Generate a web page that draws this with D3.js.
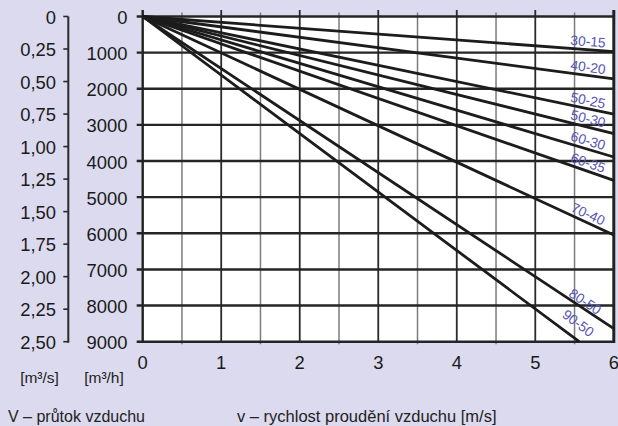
<!DOCTYPE html>
<html>
<head>
<meta charset="utf-8">
<script src="https://cdn.jsdelivr.net/npm/d3@7"></script>
<style>
  html, body { margin: 0; padding: 0; background: #dcdaee; }
  svg { display: block; }
  text { font-family: "Liberation Sans", Arial, sans-serif; }
</style>
</head>
<body>
<svg id="chart" width="618" height="426"></svg>
<script>
// Duct sizes (cm) and the air flow each carries at the end of its line
const ductLabels   = ["30-15", "40-20", "50-25", "50-30", "60-30", "60-35", "70-40", "80-50", "90-50"];
const flowAtEnd    = [972, 1728, 2700, 3240, 3888, 4536, 6048, 8640, 9000];   // m³/h
const velocityAtEnd = [6, 6, 6, 6, 6, 6, 6, 6, 5.56];                      // m/s

const velocityTicks = [0, 1, 2, 3, 4, 5, 6];
const flowTicks = [0, 1000, 2000, 3000, 4000, 5000, 6000, 7000, 8000, 9000];
const flowSecTicks = [0, 0.25, 0.5, 0.75, 1, 1.25, 1.5, 1.75, 2, 2.25, 2.5];
const flowSecTickLabels = ["0", "0,25", "0,50", "0,75", "1,00", "1,25", "1,50", "1,75", "2,00", "2,25", "2,50"];

const svg = d3.select("#chart");
const W = 618, H = 426;

const plotL = 142.7, plotR = 613.8, plotT = 16.5, plotB = 341.7;
const x = d3.scaleLinear().domain([0, 6]).range([plotL, plotR]);
const y = d3.scaleLinear().domain([0, 9000]).range([plotT, plotB]);
const ySec = d3.scaleLinear().domain([0, 2.5]).range([plotT, plotB]);

svg.append("rect").attr("width", W).attr("height", H).attr("fill", "#dcdaee");
svg.append("rect").attr("x", plotL).attr("y", plotT)
  .attr("width", plotR - plotL).attr("height", plotB - plotT).attr("fill", "#ffffff");

// vertical grid every 0.5 m/s
const halfSteps = d3.range(0.5, 6, 0.5);
svg.append("g").selectAll("line").data(halfSteps).join("line")
  .attr("x1", d => x(d)).attr("x2", d => x(d))
  .attr("y1", d => Number.isInteger(d) ? plotT - 6.5 : plotT - 4)
  .attr("y2", d => Number.isInteger(d) ? plotB : plotB + 2.5)
  .attr("stroke", d => Number.isInteger(d) ? "#2a2a2a" : "#7c7c7c")
  .attr("stroke-width", d => Number.isInteger(d) ? 1.8 : 1.5);

// horizontal grid every 1000 m³/h
svg.append("g").selectAll("line").data(flowTicks).join("line")
  .attr("x1", plotL - 6).attr("x2", plotR)
  .attr("y1", d => y(d)).attr("y2", d => y(d))
  .attr("stroke", "#252525").attr("stroke-width", 2.4);

// plot frame sides
svg.append("line").attr("x1", plotL).attr("x2", plotL).attr("y1", plotT - 6.5).attr("y2", plotB + 1)
  .attr("stroke", "#222").attr("stroke-width", 2.4);
svg.append("line").attr("x1", plotR).attr("x2", plotR).attr("y1", plotT - 6.5).attr("y2", plotB + 1.2)
  .attr("stroke", "#222").attr("stroke-width", 3);

// duct lines: flow rises linearly with velocity
const line = d3.line().x(d => x(d[0])).y(d => y(d[1]));
const series = ductLabels.map((name, i) => ({
  name,
  points: [[0, 0], [velocityAtEnd[i], flowAtEnd[i]]]
}));
svg.append("g").selectAll("path").data(series).join("path")
  .attr("d", d => line(d.points))
  .attr("fill", "none").attr("stroke", "#1c1c1c").attr("stroke-width", 2.8)
  .attr("stroke-linecap", "butt");

// rotated duct labels sitting just above each line
const labelSpots = {
  "80-50": { cx: 585, d: 6.5 },
  "90-50": { cx: 578, d: 14 }
};
svg.append("g").selectAll("text").data(series).join("text")
  .each(function (d) {
    const p0 = d.points[0], p1 = d.points[1];
    const k = (y(p1[1]) - y(p0[1])) / (x(p1[0]) - x(p0[0]));
    const th = Math.atan(k);
    const spot = labelSpots[d.name] || { cx: 588, d: 8 };
    const px = spot.cx - spot.d * Math.sin(th);
    const py = y(p0[1]) + (px - x(p0[0])) * k;
    const cy = py - spot.d * Math.cos(th);
    d3.select(this)
      .attr("transform", `translate(${spot.cx},${cy}) rotate(${th * 180 / Math.PI})`)
      .attr("text-anchor", "middle")
      .attr("dominant-baseline", "central")
      .attr("font-size", 13.8)
      .attr("fill", "#5656b4")
      .text(d.name);
  });

// m³/h axis labels
svg.append("g").selectAll("text").data(flowTicks).join("text")
  .attr("x", 127.5).attr("y", d => y(d) + 1)
  .attr("text-anchor", "end").attr("dominant-baseline", "central")
  .attr("font-size", 18.4).attr("fill", "#1a1a1a")
  .text(d => d);

// m³/s axis
const secX = 68.3;
svg.append("line").attr("x1", secX).attr("x2", secX).attr("y1", plotT).attr("y2", plotB + 1)
  .attr("stroke", "#2a2a2a").attr("stroke-width", 2);
svg.append("g").selectAll("line").data(flowSecTicks).join("line")
  .attr("x1", secX - 5).attr("x2", secX)
  .attr("y1", d => ySec(d)).attr("y2", d => ySec(d))
  .attr("stroke", "#2a2a2a").attr("stroke-width", 1.6);
svg.append("g").selectAll("text").data(flowSecTicks).join("text")
  .attr("x", 56).attr("y", d => ySec(d) + 0.5)
  .attr("text-anchor", "end").attr("dominant-baseline", "central")
  .attr("font-size", 18.4).attr("fill", "#1a1a1a")
  .text((d, i) => flowSecTickLabels[i]);

// velocity axis labels
svg.append("g").selectAll("text").data(velocityTicks).join("text")
  .attr("x", d => x(d)).attr("y", 369)
  .attr("text-anchor", "middle")
  .attr("font-size", 18.4).attr("fill", "#1a1a1a")
  .text(d => d);

// units and captions
const caption = (tx, ty, str, anchor, size) => svg.append("text")
  .attr("x", tx).attr("y", ty).attr("text-anchor", anchor || "start")
  .attr("font-size", size).attr("fill", "#222").text(str);
caption(39.5, 383, "[m³/s]", "middle", 15.5);
caption(104, 383, "[m³/h]", "middle", 15.5);
caption(8, 422, "V – průtok vzduchu", "start", 16);
caption(237, 422, "v – rychlost proudění vzduchu [m/s]", "start", 16.5);
</script>
</body>
</html>
